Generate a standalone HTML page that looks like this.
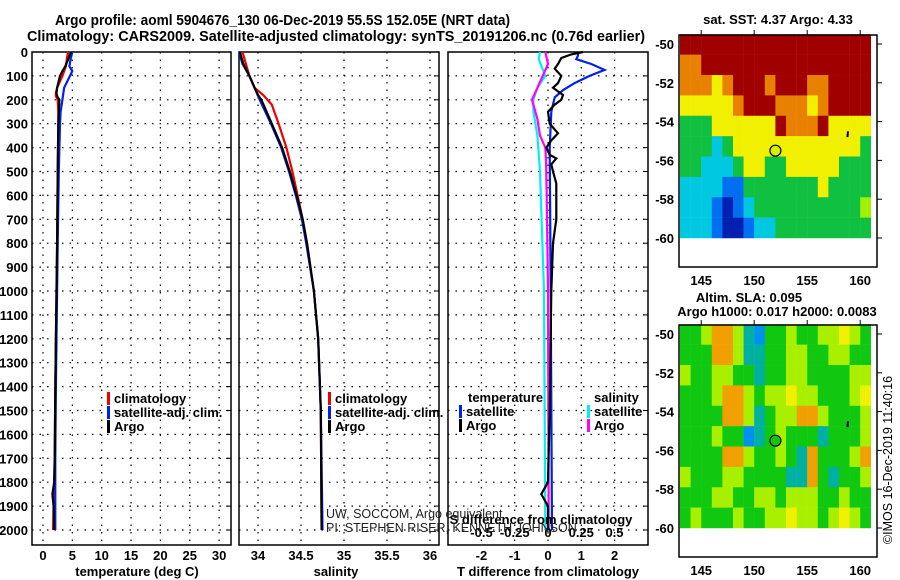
<!DOCTYPE html>
<html><head><meta charset="utf-8">
<style>
body{margin:0;background:#fff;}
svg{display:block;font-family:"Liberation Sans",sans-serif;}
.b{font-weight:bold;font-size:13px;}
</style></head>
<body>
<svg id="c" width="900" height="580" viewBox="0 0 900 580">
<text x="55" y="25" textLength="455" lengthAdjust="spacingAndGlyphs" font-size="14.5" font-weight="bold">Argo profile: aoml 5904676_130 06-Dec-2019 55.5S 152.05E (NRT data)</text>
<text x="27" y="41" textLength="618" lengthAdjust="spacingAndGlyphs" font-size="14.5" font-weight="bold">Climatology: CARS2009. Satellite-adjusted climatology: synTS_20191206.nc (0.76d earlier)</text>
<g id="g"></g>
</svg>
<script>
// ---- data ----
const depthTicks=[0,100,200,300,400,500,600,700,800,900,1000,1100,1200,1300,1400,1500,1600,1700,1800,1900,2000];
const tempTicks=[0,5,10,15,20,25,30];
const salTicks=[34,34.5,35,35.5,36];
const salTickLabels=["34","34.5","35","35.5","36"];
const tdTicks=[-2,-1,0,1,2];
const sdTicks=[-0.5,-0.25,0,0.25,0.5];
const sdTickLabels=["-0.5","-0.25","0","0.25","0.5"];

const tArgoDepth=[0,10,30,60,80,100,150,175,190,200,300,500,800,1000,1400,1700,1800,1850,1900,2000];
const tArgoVal=[4.8,4.6,4.3,3.8,3.3,2.9,2.4,2.3,2.5,2.8,2.6,2.5,2.4,2.3,2.1,2.0,1.9,1.6,1.8,1.9];
const tClimDepth=[0,20,60,100,150,170,185,200,250,300,500,800,1000,1400,1700,2000];
const tClimVal=[4.3,4.1,3.9,3.3,2.4,2.2,2.2,2.5,2.6,2.6,2.5,2.4,2.3,2.1,2.0,1.7];
const tSatDepth=[0,30,60,80,100,150,200,250,300,500,800,1000,1400,1700,2000];
const tSatVal=[5.0,4.7,4.5,5.0,4.6,3.6,3.3,3.0,2.9,2.7,2.5,2.4,2.2,2.1,2.1];

const sArgoDepth=[0,50,100,150,180,200,300,400,500,600,700,800,1000,1200,1500,2000];
const sArgoVal=[33.79,33.83,33.9,33.96,34.0,34.04,34.16,34.28,34.37,34.45,34.52,34.57,34.65,34.7,34.73,34.74];
const sClimDepth=[0,100,150,180,220,300,400,500,600,700,800,1000,1200,1500,2000];
const sClimVal=[33.82,33.9,33.96,34.06,34.16,34.24,34.33,34.40,34.46,34.52,34.57,34.65,34.7,34.73,34.74];
const sSatDepth=[0,50,100,150,200,300,400,500,600,700,800,1000,1200,1500,2000];
const sSatVal=[33.78,33.82,33.9,33.96,34.02,34.15,34.27,34.36,34.44,34.51,34.56,34.65,34.7,34.73,34.75];

const dtArgoDepth=[0,10,25,50,70,100,130,150,180,200,220,250,300,340,370,400,430,445,470,500,550,700,800,1000,1500,1800,1850,1900,2000];
const dtArgoVal=[1.05,0.7,0.4,0.3,0.2,0.4,0.3,0.15,0.45,0.4,0.2,0.0,0.05,0.3,0.1,-0.05,0.05,0.25,0.1,0.15,0.25,0.25,0.15,0.1,0.05,0.0,-0.2,0.0,0.0];
const dtSatDepth=[0,15,30,50,75,100,130,160,190,250,400,1000,2000];
const dtSatVal=[0.9,0.9,0.85,1.3,1.7,1.25,0.8,0.45,0.2,0.1,0.05,0.08,0.12];
const dsArgoDepth=[0,50,100,150,200,280,350,400,450,600,1000,2000];
const dsArgoVal=[-0.02,0,-0.04,-0.08,-0.12,-0.08,-0.06,-0.02,-0.015,-0.01,0,0.005];
const dsSatDepth=[0,30,100,150,200,250,350,500,1000,2000];
const dsSatVal=[-0.06,-0.07,-0.02,-0.08,-0.11,-0.11,-0.08,-0.06,-0.03,-0.02];

const mapLonTicks=[145,150,155,160];
const mapLatTicks=[-50,-52,-54,-56,-58,-60];
const sstGrid=["RRRRRRRRRRRRRRRRRR","OORRRRRRRRRRRRRRRR","OOOYORRRORRROORRRR","YYYYYORRROOOYORRRR","GGGYYYYYYROOORYYYY","GGGCGYYYYYYYYYYYYG","GGCCCGYYGGYYYYYGGG","CCCCBBGGGGGGGYGGGG","CCCBDBCGGGGGGGGGGL","CCCBDDBCCGGGGGGGGG"];
const slaGrid=["GGLOOLCBGGLGGLLYLG","GGGOOLCCGGLLGGLLGG","LGGLLGGCGGLLGGGGLL","GGGLOOLGLLYLLGGGLY","GGGGOOLCGLLOOLGGGL","GGGLGGBCGLGGGCGGGL","GGGGOOLGGLGCOGGGLO","LGGGLLGGGGCCOGCGGL","GGGLLGGLLGLLLGGLGG","GLGGGLGGLLYLLGLYLG"];
const sstColors={R:"#a00000",O:"#e88000",Y:"#f0f000",G:"#10c040",C:"#00c8e0",B:"#0070f0",D:"#0020b0",L:"#a0f000"};
const slaColors={G:"#10c810",L:"#a8f000",Y:"#f0f000",O:"#f0a000",C:"#00b0a0",B:"#0090f0"};

// ---- drawing ----
const NS="http://www.w3.org/2000/svg";
const root=document.getElementById('g');
function mk(tag,attrs,parent,txt){const e=document.createElementNS(NS,tag);for(const k in attrs)e.setAttribute(k,attrs[k]);if(txt!==undefined)e.textContent=txt;(parent||root).appendChild(e);return e;}
const Y0=52,Y1=545;
const yD=d=>Y0+d*0.239;
function panel(x0,x1,name){
  const g=mk('g',{});
  
  
  mk('rect',{x:x0,y:Y0,width:x1-x0,height:Y1-Y0,fill:'#fff',stroke:'#000','stroke-width':1.5},g);
  depthTicks.forEach(d=>{if(d>0){mk('line',{x1:x0,x2:x1,y1:yD(d),y2:yD(d),stroke:'#000','stroke-dasharray':'1.5,6','stroke-width':1.2},g);
    mk('line',{x1:x1-5,x2:x1,y1:yD(d),y2:yD(d),stroke:'#000'},g);}});
  return g;
}
function vgrid(g,ticks,xf){ticks.forEach(t=>{mk('line',{x1:xf(t),x2:xf(t),y1:Y0,y2:Y1,stroke:'#000','stroke-dasharray':'1.5,6','stroke-width':1.2},g);});}
function line(g,ds,vs,xf,col,name){
  const p=ds.map((d,i)=>xf(vs[i]).toFixed(1)+','+yD(d).toFixed(1)).join(' ');
  const e=mk('polyline',{points:p,fill:'none',stroke:col,'stroke-width':2.2},g);
  
  
}
function leg(g,x,y,col,txt,name){
  mk('rect',{x:x,y:y-11,width:3,height:13,fill:col},g);
  const t=mk('text',{x:x+7,y:y,class:'b'},g,txt);
  
  
}
// panel 1
const xT=v=>43+v*5.87;
const p1=panel(32,231,'temperature-panel');
vgrid(p1,tempTicks,xT);
depthTicks.forEach(d=>{const t=mk('text',{x:28,y:yD(d)+5,'text-anchor':'end',class:'b'},p1,String(d));
  });
tempTicks.forEach(v=>mk('text',{x:xT(v),y:560,'text-anchor':'middle',class:'b'},p1,String(v)));
mk('text',{x:137,y:576,'text-anchor':'middle',class:'b'},p1,'temperature (deg C)');
line(p1,tClimDepth,tClimVal,xT,'#f00000','temp-climatology-line');
line(p1,tSatDepth,tSatVal,xT,'#0020f0','temp-satellite-line');
line(p1,tArgoDepth,tArgoVal,xT,'#000','temp-argo-line');
leg(p1,107,403,'#f00000','climatology','legend-climatology');
leg(p1,107,417,'#0020f0','satellite-adj. clim.','legend-satellite');
leg(p1,107,431,'#000','Argo','legend-argo');
// panel 2
const xS=v=>258+(v-34)*86;
const p2=panel(239,439,'salinity-panel');
vgrid(p2,salTicks,xS);
salTicks.forEach((v,i)=>mk('text',{x:xS(v),y:560,'text-anchor':'middle',class:'b'},p2,salTickLabels[i]));
mk('text',{x:336,y:576,'text-anchor':'middle',class:'b'},p2,'salinity');
line(p2,sClimDepth,sClimVal,xS,'#f00000','sal-climatology-line');
line(p2,sSatDepth,sSatVal,xS,'#0020f0','sal-satellite-line');
line(p2,sArgoDepth,sArgoVal,xS,'#000','sal-argo-line');
leg(p2,328,403,'#f00000','climatology','legend-climatology-2');
leg(p2,328,417,'#0020f0','satellite-adj. clim.','legend-satellite-2');
leg(p2,328,431,'#000','Argo','legend-argo-2');
// panel 3
const xTD=v=>548+v*33.3;
const xSD=v=>548+v*133;
const p3=panel(448,648,'difference-panel');
vgrid(p3,tdTicks,xTD);
tdTicks.forEach(v=>mk('text',{x:xTD(v),y:560,'text-anchor':'middle',class:'b'},p3,String(v)));
mk('text',{x:548,y:576,'text-anchor':'middle',class:'b'},p3,'T difference from climatology');
line(p3,dsSatDepth,dsSatVal,xSD,'#00f0f0','sdiff-satellite-line');
line(p3,dsArgoDepth,dsArgoVal,xSD,'#ff00ff','sdiff-argo-line');
line(p3,dtSatDepth,dtSatVal,xTD,'#0020f0','tdiff-satellite-line');
line(p3,dtArgoDepth,dtArgoVal,xTD,'#000','tdiff-argo-line');
mk('text',{x:541,y:524,'text-anchor':'middle',class:'b'},p3,'S difference from climatology');
sdTicks.forEach((v,i)=>mk('text',{x:xSD(v),y:537,'text-anchor':'middle',class:'b'},p3,sdTickLabels[i]));
mk('text',{x:468,y:402,class:'b'},p3,'temperature');
leg(p3,459,416,'#0020f0','satellite','legend-t-satellite');
leg(p3,459,430,'#000','Argo','legend-t-argo');
mk('text',{x:594,y:402,class:'b'},p3,'salinity');
leg(p3,587,416,'#00f0f0','satellite','legend-s-satellite');
leg(p3,587,430,'#ff00ff','Argo','legend-s-argo');
// credits (drawn on top, overlapping the difference panel)
mk('text',{x:326,y:518,'font-size':'12.5',fill:'#222'},null,'UW, SOCCOM, Argo equivalent');
mk('text',{x:326,y:532,'font-size':'12.5',fill:'#222'},null,'PI: STEPHEN RISER, KENNETH JOHNSON');
// maps
function map(top,grid,colors,name,mx){
  const g=mk('g',{});
  
  
  const lx=v=>680+(v-143)*10.6;
  const ly=v=>top+9+(-50-v)*19.4;
  const bottom=top+232;
  grid.forEach((row,r)=>{[...row].forEach((c,k)=>{
    const cell=mk('rect',{x:lx(143+k),y:ly(-49.5-r*1.05),width:10.8,height:20.6,fill:colors[c]},g);
    
  });});
  mk('rect',{x:679,y:top,width:198,height:232,fill:'none',stroke:'#000','stroke-width':1.5},g);
  mapLatTicks.forEach(v=>{mk('text',{x:674,y:ly(v)+5,'text-anchor':'end',class:'b'},g,String(v));
    mk('line',{x1:877,x2:882,y1:ly(v),y2:ly(v),stroke:'#000'},g);});
  mapLonTicks.forEach(v=>{mk('text',{x:lx(v),y:bottom+18,'text-anchor':'middle',class:'b'},g,String(v));
    mk('line',{x1:lx(v),x2:lx(v),y1:top-5,y2:top,stroke:'#000'},g);});
  mk('circle',{cx:lx(152),cy:ly(-55.5),r:5.5,fill:mx,stroke:'#000','stroke-width':1.2},g);
  mk('line',{x1:lx(158.85),x2:lx(158.8),y1:ly(-54.5),y2:ly(-54.8),stroke:'#000','stroke-width':2},g);
}
map(35,sstGrid,sstColors,'sst-map','#d8f000');
map(325,slaGrid,slaColors,'sla-map','#10c810');
mk('text',{x:778,y:24,'text-anchor':'middle',class:'b'},null,'sat. SST: 4.37 Argo: 4.33');
mk('text',{x:749,y:302,'text-anchor':'middle',class:'b'},null,'Altim. SLA: 0.095');
mk('text',{x:777,y:316,'text-anchor':'middle',class:'b'},null,'Argo h1000: 0.017 h2000: 0.0083');
mk('text',{x:892,y:460,'text-anchor':'middle','font-size':'12.5',transform:'rotate(-90 892 460)'},null,'©IMOS 16-Dec-2019 11:40:16');
</script>
</body></html>
